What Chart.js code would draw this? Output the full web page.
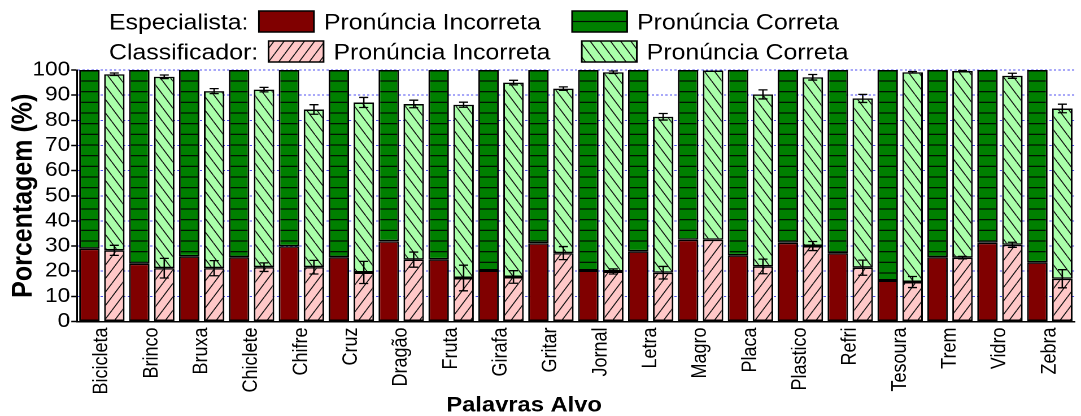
<!DOCTYPE html>
<html>
<head>
<meta charset="utf-8">
<script src="https://cdn.jsdelivr.net/npm/chart.js@4"></script>
<style>
  html, body { margin: 0; padding: 0; background: #fff; width: 1081px; height: 416px; overflow: hidden; }
  /* the figure is drawn at 957 px wide and widened to the full 1081 px */
  #wrap { width: 957px; height: 416px; transform: scaleX(1.12957); transform-origin: 0 0; }
  canvas { display: block; }
</style>
</head>
<body>
<div id="wrap"><canvas id="grafico" width="957" height="416"></canvas></div>
<script>
// Target words
const palavras = ['Bicicleta', 'Brinco', 'Bruxa', 'Chiclete', 'Chifre', 'Cruz', 'Dragão', 'Fruta', 'Girafa', 'Gritar',
                  'Jornal', 'Letra', 'Magro', 'Placa', 'Plastico', 'Refri', 'Tesoura', 'Trem', 'Vidro', 'Zebra'];

// Specialist judgement (%)
const especialistaIncorreta = [29.0, 23.0, 25.9, 25.6, 29.9, 25.6, 31.9, 24.7, 20.3, 31.1, 20.3, 27.9, 32.5, 26.3, 31.3, 27.2, 16.3, 25.6, 31.3, 23.5];
const especialistaCorreta   = [71.0, 77.0, 74.1, 74.4, 70.1, 74.4, 68.1, 75.3, 79.7, 68.9, 79.7, 72.1, 67.5, 73.7, 68.7, 72.8, 83.7, 74.4, 68.7, 76.5];

// Classifier output (%)
const classificadorIncorreta = [28.3, 21.2, 21.2, 21.6, 21.6, 19.5, 24.6, 17.3, 17.7, 27.2, 19.9, 19.4, 32.5, 21.9, 30.0, 21.4, 15.7, 25.4, 30.5, 17.0];
const classificadorCorreta   = [70.0, 76.1, 70.4, 70.6, 62.7, 67.6, 61.9, 68.9, 77.3, 65.4, 79.2, 62.0, 67.3, 68.4, 67.1, 67.3, 83.4, 74.2, 67.2, 67.7];

// Standard deviation of the classifier (%): at the incorrect share and at the stack top
const erroIncorreta = [2.0, 3.9, 3.0, 1.7, 2.7, 4.4, 3.0, 5.1, 2.5, 2.6, 1.0, 2.5, 0.0, 2.9, 1.8, 3.0, 2.2, 0.5, 1.0, 3.6];
const erroTotal     = [0.5, 0.7, 1.0, 0.9, 1.9, 2.0, 1.5, 1.0, 0.9, 0.7, 0.5, 1.3, 0.0, 1.8, 1.1, 1.6, 0.3, 0.2, 1.0, 1.7];

// Y axis
const yMin = 0, yMax = 100, yPasso = 10;

const FONTE = "'Liberation Sans', Arial, Helvetica, sans-serif";
const RES = 2; // pattern tiles are built at device resolution

function padrao(fundo, w, h, desenhar) {
  const c = document.createElement('canvas');
  c.width = w; c.height = h;
  const g = c.getContext('2d');
  g.fillStyle = fundo;
  g.fillRect(0, 0, w, h);
  desenhar(g, w, h);
  const p = g.createPattern(c, 'repeat');
  p.setTransform(new DOMMatrix([1 / RES, 0, 0, 1 / RES, 0, 0]));
  return p;
}

// horizontal rules on dark green
const padraoVerdeEscuro = padrao('#008000', 4, 64, (g, w) => {
  g.fillStyle = 'rgba(0,0,0,0.9)';
  [12.67, 34.0, 55.33].forEach(y => g.fillRect(0, y - 1.2, w, 2.4));
});
// "/" hatch on pink
const padraoRosa = padrao('#FFC8C8', 18, 27, (g, w, h) => {
  g.strokeStyle = '#111'; g.lineWidth = 2;
  for (const x of [-w, 0, w]) { g.beginPath(); g.moveTo(x, h); g.lineTo(x + w, 0); g.stroke(); }
});
// "\" hatch on light green
const padraoVerdeClaro = padrao('#AAFFAA', 18, 27, (g, w, h) => {
  g.strokeStyle = '#111'; g.lineWidth = 2;
  for (const x of [-w, 0, w]) { g.beginPath(); g.moveTo(x, 0); g.lineTo(x + w, h); g.stroke(); }
});

const estiloBarra = { borderColor: '#000', borderWidth: 1.5, borderSkipped: false, barPercentage: 0.82, categoryPercentage: 1.0 };

const conjuntos = [
  { grupo: 'Especialista:', label: 'Pronúncia Incorreta', data: especialistaIncorreta, stack: 'esp', backgroundColor: '#800000', ...estiloBarra },
  { grupo: 'Especialista:', label: 'Pronúncia Correta', data: especialistaCorreta, stack: 'esp', backgroundColor: padraoVerdeEscuro, legendaDy: 4.5, ...estiloBarra },
  { grupo: 'Classificador:', label: 'Pronúncia Incorreta', data: classificadorIncorreta, stack: 'cls', backgroundColor: padraoRosa, ...estiloBarra },
  { grupo: 'Classificador:', label: 'Pronúncia Correta', data: classificadorCorreta, stack: 'cls', backgroundColor: padraoVerdeClaro, ...estiloBarra }
];

// error bars on the classifier stacks
const barrasErro = {
  id: 'barrasErro',
  afterDatasetsDraw(chart) {
    const ctx = chart.ctx, y = chart.scales.y;
    const meta = chart.getDatasetMeta(2);
    ctx.save();
    ctx.strokeStyle = '#000';
    ctx.lineWidth = 1.3;
    const traco = (x, v, e) => {
      if (!e) return;
      const y1 = y.getPixelForValue(v - e), y2 = y.getPixelForValue(v + e), a = 4;
      ctx.beginPath();
      ctx.moveTo(x, y1); ctx.lineTo(x, y2);
      ctx.moveTo(x - a, y1); ctx.lineTo(x + a, y1);
      ctx.moveTo(x - a, y2); ctx.lineTo(x + a, y2);
      ctx.stroke();
    };
    palavras.forEach((_, i) => {
      const x = meta.data[i].x;
      traco(x, classificadorIncorreta[i], erroIncorreta[i]);
      traco(x, classificadorIncorreta[i] + classificadorCorreta[i], erroTotal[i]);
    });
    ctx.restore();
  }
};

// two-row legend and the x axis title
const legendaETitulo = {
  id: 'legendaETitulo',
  afterDraw(chart) {
    const ctx = chart.ctx;
    ctx.save();
    ctx.font = '22px ' + FONTE;
    ctx.fillStyle = '#000';
    ctx.textBaseline = 'alphabetic';
    const linhas = [{ topo: 11, ds: [0, 1] }, { topo: 41, ds: [2, 3] }];
    const caixaL = 48.7, caixaA = 21;
    linhas.forEach(l => {
      let x = 96.5;
      const base = l.topo + 18.3;
      const grupo = chart.data.datasets[l.ds[0]].grupo;
      ctx.fillStyle = '#000';
      ctx.fillText(grupo, x, base);
      x += ctx.measureText(grupo).width + 9.2;
      l.ds.forEach(d => {
        const ds = chart.data.datasets[d];
        const dy = ds.legendaDy || 0;
        ctx.save();
        ctx.translate(0, dy);
        ctx.fillStyle = ds.backgroundColor;
        ctx.fillRect(x, l.topo - dy, caixaL, caixaA);
        ctx.restore();
        ctx.strokeStyle = '#000';
        ctx.lineWidth = 1.5;
        ctx.strokeRect(x, l.topo, caixaL, caixaA);
        x += caixaL + 8.8;
        ctx.fillStyle = '#000';
        ctx.fillText(ds.label, x, base);
        x += ctx.measureText(ds.label).width + 27.8;
      });
    });
    ctx.font = 'bold 21px ' + FONTE;
    ctx.textAlign = 'center';
    ctx.fillText('Palavras Alvo', 464, 411.5);
    ctx.restore();
  }
};

Chart.defaults.font.family = FONTE;
Chart.defaults.color = '#000';

new Chart(document.getElementById('grafico'), {
  type: 'bar',
  data: { labels: palavras, datasets: conjuntos },
  plugins: [barrasErro, legendaETitulo],
  options: {
    responsive: false,
    animation: false,
    devicePixelRatio: 2,
    layout: { padding: { top: 70, right: 0, bottom: 0, left: 0 } },
    plugins: { legend: { display: false }, tooltip: { enabled: false } },
    scales: {
      x: {
        stacked: true,
        grid: { display: false, drawTicks: false },
        border: { display: true, color: '#000', width: 1.5 },
        ticks: { autoSkip: false, minRotation: 90, maxRotation: 90, padding: 6, font: { size: 18 }, color: '#000' },
        afterFit(s) { s.height = 94.5; }
      },
      y: {
        stacked: true,
        min: yMin, max: yMax,
        grid: {
          color: 'rgba(20,20,235,0.75)',
          lineWidth: 1,
          tickLength: 5,
          tickColor: '#000',
          tickWidth: 1.5,
          tickBorderDash: []
        },
        border: { display: true, color: '#000', width: 1.5, dash: [2, 2] },
        ticks: {
          stepSize: yPasso,
          autoSkip: false,
          padding: 1,
          font: { size: 20 },
          color: '#000'
        },
        title: { display: true, text: 'Porcentagem (%)', font: { size: 25, weight: 'bold' }, color: '#000', padding: { top: 6, bottom: 0 } },
        afterFit(s) { s.width = 68.1; }
      }
    }
  }
});
</script>
</body>
</html>
